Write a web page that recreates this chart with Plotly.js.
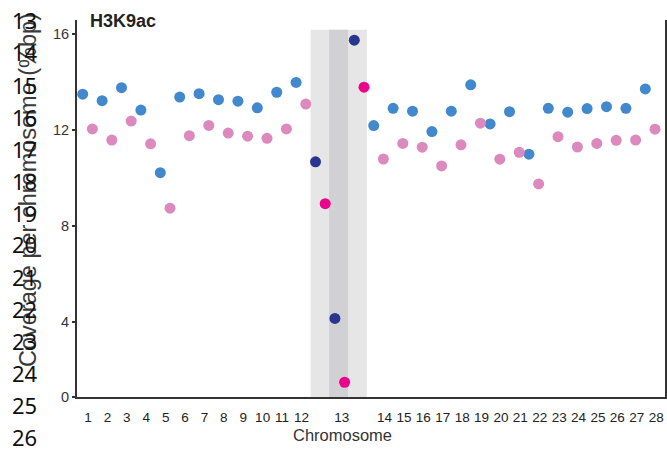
<!DOCTYPE html>
<html>
<head>
<meta charset="utf-8">
<script src="https://cdn.plot.ly/plotly-3.0.1.min.js"></script>
<style>html,body{margin:0;padding:0;background:#fff}#chart{width:667px;height:451px}</style>
</head>
<body>
<div id="chart"></div>
<script>
// ---- data ----
const chromosomes = ['1','2','3','4','5','6','7','8','9','10','11','12','13','14','15','16','17','18','19','20','21','22','23','24','25','26','27','28'];
const outsideChromosomes = ['1','2','3','4','5','6','7','8','9','10','11','12','14','15','16','17','18','19','20','21','22','23','24','25','26','27','28'];
const blueValues = [13.49,13.22,13.76,12.83,10.22,13.37,13.51,13.26,13.20,12.92,13.57,13.98,
                    12.18,12.90,12.78,11.93,12.78,13.88,12.25,12.76,10.99,12.90,12.74,12.89,12.97,12.90,13.71];
const pinkValues = [12.04,11.58,12.37,11.42,8.74,11.76,12.19,11.87,11.74,11.65,12.04,13.08,
                    10.79,11.44,11.28,10.50,11.38,12.28,10.78,11.07,9.75,11.72,11.29,11.44,11.57,11.58,12.03];
const chr13Navy = [10.67, 4.15, 15.74];
const chr13Magenta = [8.93, 1.49, 13.78];
const yTickValues = [4, 8, 12, 16];
const yTickLabels = ['4', '8', '12', '16'];
const sideNumbers = ['13','14','15','16','17','18','19','20','21','22','23','24','25','26'];
const chartTitle = 'H3K9ac';
const xTitle = 'Chromosome';
const yTitle = 'Coverage per chromosome (%bp)';

// ---- layout geometry ----
const W = 667, H = 451;
const M = {l: 77, r: 2, t: 20, b: 54};
const PW = W - M.l - M.r, PH = H - M.t - M.b;
const px2x = p => (p - M.l) / PW;
const py2y = p => (H - M.b - p) / PH;
const yBottom = 0.875, yTop = 16.58;

// slot index for each point: pairs before chr13, 6 slots inside band, pairs after
const blueX = [], pinkX = [];
outsideChromosomes.forEach((c, i) => {
  const slot = i < 12 ? 2 * i : 30 + 2 * (i - 12);
  blueX.push(slot); pinkX.push(slot + 1);
});
const navyX = chr13Navy.map((v, i) => 24 + 2 * i);
const magentaX = chr13Magenta.map((v, i) => 25 + 2 * i);

const tickVals = chromosomes.map((c, i) => {
  const n = i + 1;
  if (n < 13) return 2 * (n - 1) + 0.55;
  if (n === 13) return 26.7;
  return 30 + 2 * (n - 14) + 1.12;
});

const sans = 'Liberation Sans, Arial, sans-serif';

const mk = (x, y, color) => ({
  type: 'scatter', mode: 'markers', x: x, y: y, cliponaxis: false,
  marker: {size: 11, color: color, line: {width: 0}}, hoverinfo: 'skip', showlegend: false
});

const traces = [
  mk(blueX, blueValues, '#4288cd'),
  mk(pinkX, pinkValues, '#dc8abe'),
  mk(navyX, chr13Navy, '#29368f'),
  mk(magentaX, chr13Magenta, '#ec038c')
];

const annotations = [
  {text: chartTitle, xref: 'paper', yref: 'paper', x: px2x(88), y: py2y(21), xanchor: 'left', yanchor: 'middle',
   showarrow: false, font: {family: sans, size: 18, color: '#222', weight: 'bold'}},
  {text: xTitle, xref: 'paper', yref: 'paper', x: px2x(342), y: py2y(435), xanchor: 'center', yanchor: 'middle',
   showarrow: false, font: {family: sans, size: 16.5, color: '#333'}},
  {text: yTitle, xref: 'paper', yref: 'paper', x: px2x(28), y: py2y(190), xanchor: 'center', yanchor: 'middle',
   textangle: -90, showarrow: false, font: {family: sans, size: 23.5, color: '#3a3a3a'}}
];
sideNumbers.forEach((t, i) => {
  annotations.push({text: t, xref: 'paper', yref: 'paper', x: px2x(10), y: py2y(20.5 + 32 * i),
    xanchor: 'left', yanchor: 'middle', showarrow: false,
    font: {family: 'Noto Sans, Open Sans, sans-serif', size: 22, color: '#111'}});
});

const layout = {
  width: W, height: H, margin: M,
  paper_bgcolor: '#fff', plot_bgcolor: '#fff', showlegend: false,
  xaxis: {range: [-0.588, 60.03], showgrid: false, zeroline: false, showline: true,
    linecolor: '#333', linewidth: 2, ticks: '', tickmode: 'array', tickvals: tickVals, ticktext: chromosomes,
    tickfont: {family: sans, size: 13.5, color: '#222'}, ticklabelstandoff: 7, fixedrange: true},
  yaxis: {range: [yBottom, yTop], showgrid: false, zeroline: false, showline: true, mirror: true,
    linecolor: '#333', linewidth: 2, ticks: 'outside', ticklen: 3, tickwidth: 2, tickcolor: '#333',
    tickmode: 'array', tickvals: [yBottom].concat(yTickValues), ticktext: ['0'].concat(yTickLabels),
    tickfont: {family: sans, size: 14.5, color: '#333'}, ticklabelstandoff: 0, fixedrange: true},
  shapes: [
    {type: 'rect', xref: 'x', yref: 'y', x0: 23.5, x1: 29.3, y0: yBottom, y1: 16.17, layer: 'below',
     fillcolor: '#e6e6e7', line: {width: 0}},
    {type: 'rect', xref: 'x', yref: 'y', x0: 25.4, x1: 27.35, y0: yBottom, y1: 16.17, layer: 'below',
     fillcolor: '#d1d1d3', line: {width: 0}}
  ],
  annotations: annotations
};

Plotly.newPlot('chart', traces, layout, {staticPlot: true, displayModeBar: false});
</script>
</body>
</html>
